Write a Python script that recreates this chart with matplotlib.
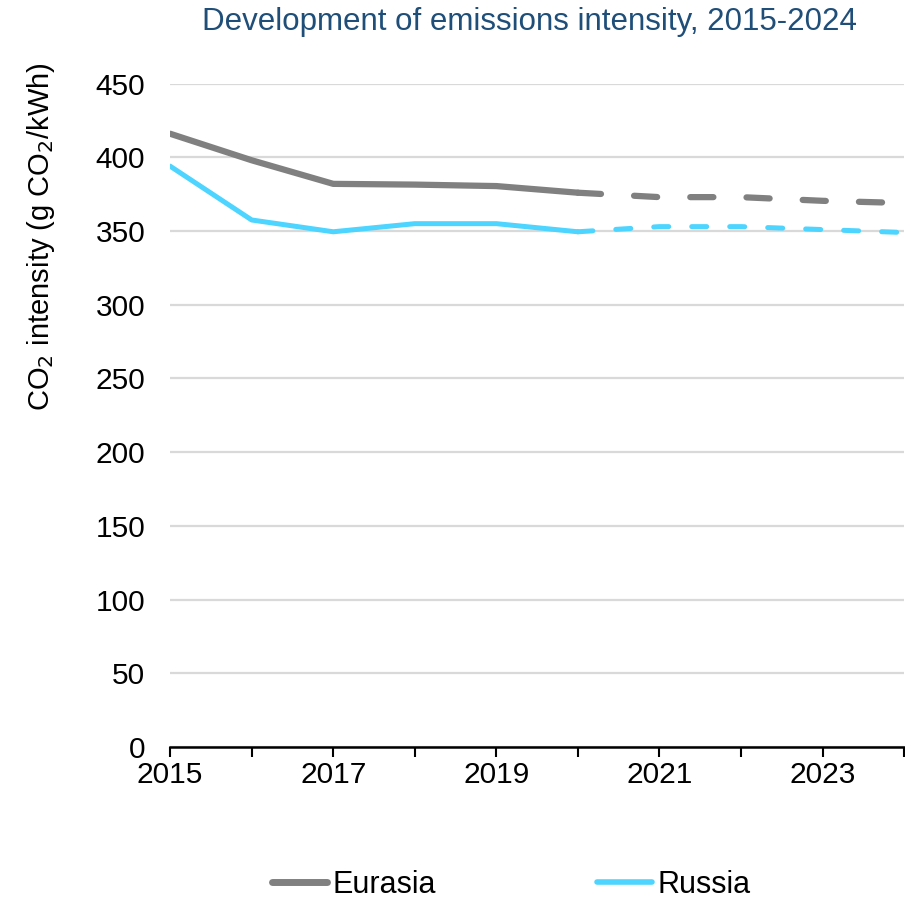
import matplotlib
matplotlib.use("Agg")
import matplotlib.pyplot as plt
from matplotlib.lines import Line2D

plt.rcParams['font.family'] = ['Liberation Sans', 'DejaVu Sans']

years = [2015, 2016, 2017, 2018, 2019, 2020, 2021, 2022, 2023, 2024]
eurasia = [416, 398, 382, 381.5, 380.5, 376, 373, 373, 370.5, 369]
russia = [394, 357.5, 349.5, 355, 355, 349.5, 353, 353, 351, 349]
last_actual = 2020
title = "Development of emissions intensity, 2015-2024"
ylabel = "CO$_2$ intensity (g CO$_2$/kWh)"
yticks = [0, 50, 100, 150, 200, 250, 300, 350, 400, 450]
xtick_labels = [2015, 2017, 2019, 2021, 2023]
series_names = ["Eurasia", "Russia"]

c_eur = "#808080"
c_rus = "#4DD4FF"

fig = plt.figure(figsize=(9.05, 8.99), dpi=100)
ax = fig.add_axes([0.188, 0.169, 0.811, 0.738])

i = years.index(last_actual)
ax.plot(years[:i + 1], eurasia[:i + 1], color=c_eur, lw=4.5, solid_capstyle='round', zorder=3)
ax.plot(years[i:], eurasia[i:], color=c_eur, lw=4.5, dashes=(3.7, 5.3), dash_capstyle='round', zorder=3)
ax.plot(years[:i + 1], russia[:i + 1], color=c_rus, lw=3.6, solid_capstyle='round', zorder=3)
ax.plot(years[i:], russia[i:], color=c_rus, lw=3.6, dashes=(3.0, 4.6), dash_capstyle='round', zorder=3)

ax.set_xlim(2015, 2024)
ax.set_ylim(0, 450)
ax.set_yticks(yticks)
ax.set_xticks(years)
ax.set_xticklabels([str(y) if y in xtick_labels else "" for y in years])
ax.yaxis.grid(True, color="#d9d9d9", lw=1.6, zorder=0)
ax.set_axisbelow(True)
for s in ['top', 'right', 'left']:
    ax.spines[s].set_visible(False)
ax.spines['bottom'].set_linewidth(1.8)
ax.spines['bottom'].set_zorder(4)
ax.tick_params(axis='y', length=0, labelsize=21.5, pad=18)
ax.tick_params(axis='x', length=7, width=1.5, direction='out', labelsize=21.5, pad=3)
ax.set_ylabel(ylabel, fontsize=21)
ax.yaxis.set_label_coords(-0.154, 0.77)
fig.text(0.5845, 1 - 22 / 899, title, fontsize=22.5, color="#1F4E79",
         ha='center', va='center')

handles = [Line2D([], [], color=c_eur, lw=5, solid_capstyle='round'),
           Line2D([], [], color=c_rus, lw=4, solid_capstyle='round')]
fig.legend(handles, series_names, loc='center', bbox_to_anchor=(0.565, 0.0156),
           ncol=2, frameon=False, fontsize=22, handlelength=1.8, handletextpad=0.15,
           columnspacing=5.3, borderpad=0, borderaxespad=0)

fig.savefig("out.png", dpi=100)
